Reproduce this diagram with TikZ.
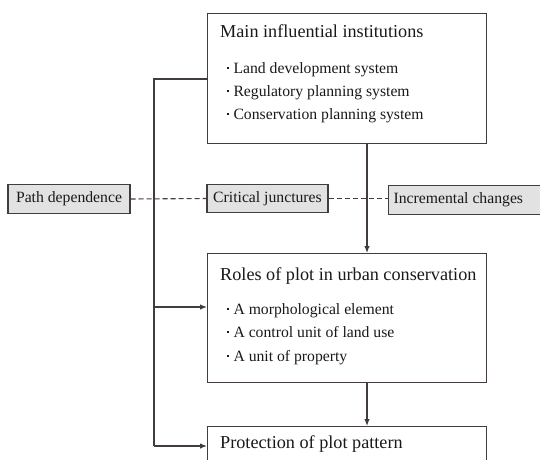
\documentclass[tikz,border=0pt]{standalone}
\usepackage{fontspec}
\setmainfont{Liberation Serif}
\usetikzlibrary{arrows.meta}
\definecolor{edge}{RGB}{66,60,60}
\definecolor{ink}{RGB}{25,25,25}
\definecolor{labfill}{RGB}{226,226,226}
\newcommand{\itdot}{\makebox[6.6pt][l]{\raisebox{4.3pt}{\rule{2.2pt}{2.2pt}}}}
\begin{document}
\begin{tikzpicture}[x=1pt,y=1pt,
  bigbox/.style={draw=edge,line width=1.2pt,rectangle,inner sep=0pt,anchor=north west,minimum width=279pt},
  labbox/.style={draw=edge,line width=1.2pt,fill=labfill,rectangle,inner sep=0pt,minimum height=28.5pt,text=ink,font=\fontsize{15.7}{16}\selectfont},
  titletext/.style={anchor=base west,inner sep=0pt,text=ink,font=\fontsize{18.2}{19}\selectfont},
  itemtext/.style={anchor=base west,inner sep=0pt,text=ink,font=\fontsize{15.7}{16}\selectfont},
  conn/.style={draw=edge,line width=1.2pt},
  arr/.style={conn,-{Latex[length=7pt,width=5.5pt]}},
  dashconn/.style={draw=edge,line width=1.1pt,dash pattern=on 5pt off 3pt}]
\useasboundingbox (0,0) rectangle (540,-459);
% boxes
\node[bigbox,minimum height=130pt] (main) at (207,-13) {};
\node[bigbox,minimum height=129pt] (roles) at (207,-253) {};
\node[bigbox,minimum height=60pt] (prot) at (207,-426) {};
% texts
\node[titletext] (mainT) at (220,-37) {Main influential institutions};
\node[itemtext] (m1) at (226.7,-73) {\itdot Land development system};
\node[itemtext] (m2) at (226.7,-96) {\itdot Regulatory planning system};
\node[itemtext] (m3) at (226.7,-119) {\itdot Conservation planning system};
\node[titletext] (rolesT) at (220,-280) {Roles of plot in urban conservation};
\node[itemtext] (r1) at (226.7,-314) {\itdot A morphological element};
\node[itemtext] (r2) at (226.7,-337.5) {\itdot A control unit of land use};
\node[itemtext] (r3) at (226.7,-361) {\itdot A unit of property};
\node[titletext] (protT) at (220,-448) {Protection of plot pattern};
% label boxes
\node[labbox,minimum width=122pt] (path) at (69,-199) {Path dependence};
\node[labbox,minimum width=121pt] (crit) at (267.5,-198.5) {Critical junctures};
\node[labbox,anchor=west,inner xsep=5pt] (incr) at (388,-200) {\makebox[150pt][l]{Incremental changes}};
% dashed lines
\draw[dashconn] (path.east) -- (crit.west);
\draw[dashconn] (crit.east) -- (crit.east -| incr.west);
% connectors
\coordinate (c1) at (154,-79);
\coordinate (c2) at (154,-446);
\draw[conn] (main.west |- c1) -- (c1) -- (c2);
\draw[arr] (c2) -- (prot.west |- c2);
\draw[arr] (154,-307) coordinate (c3) -- (roles.west |- c3);
\draw[arr] (main.south -| 367,0) -- (roles.north -| 367,0);
\draw[arr] (roles.south -| 367,0) -- (prot.north -| 367,0);
\end{tikzpicture}
\end{document}
